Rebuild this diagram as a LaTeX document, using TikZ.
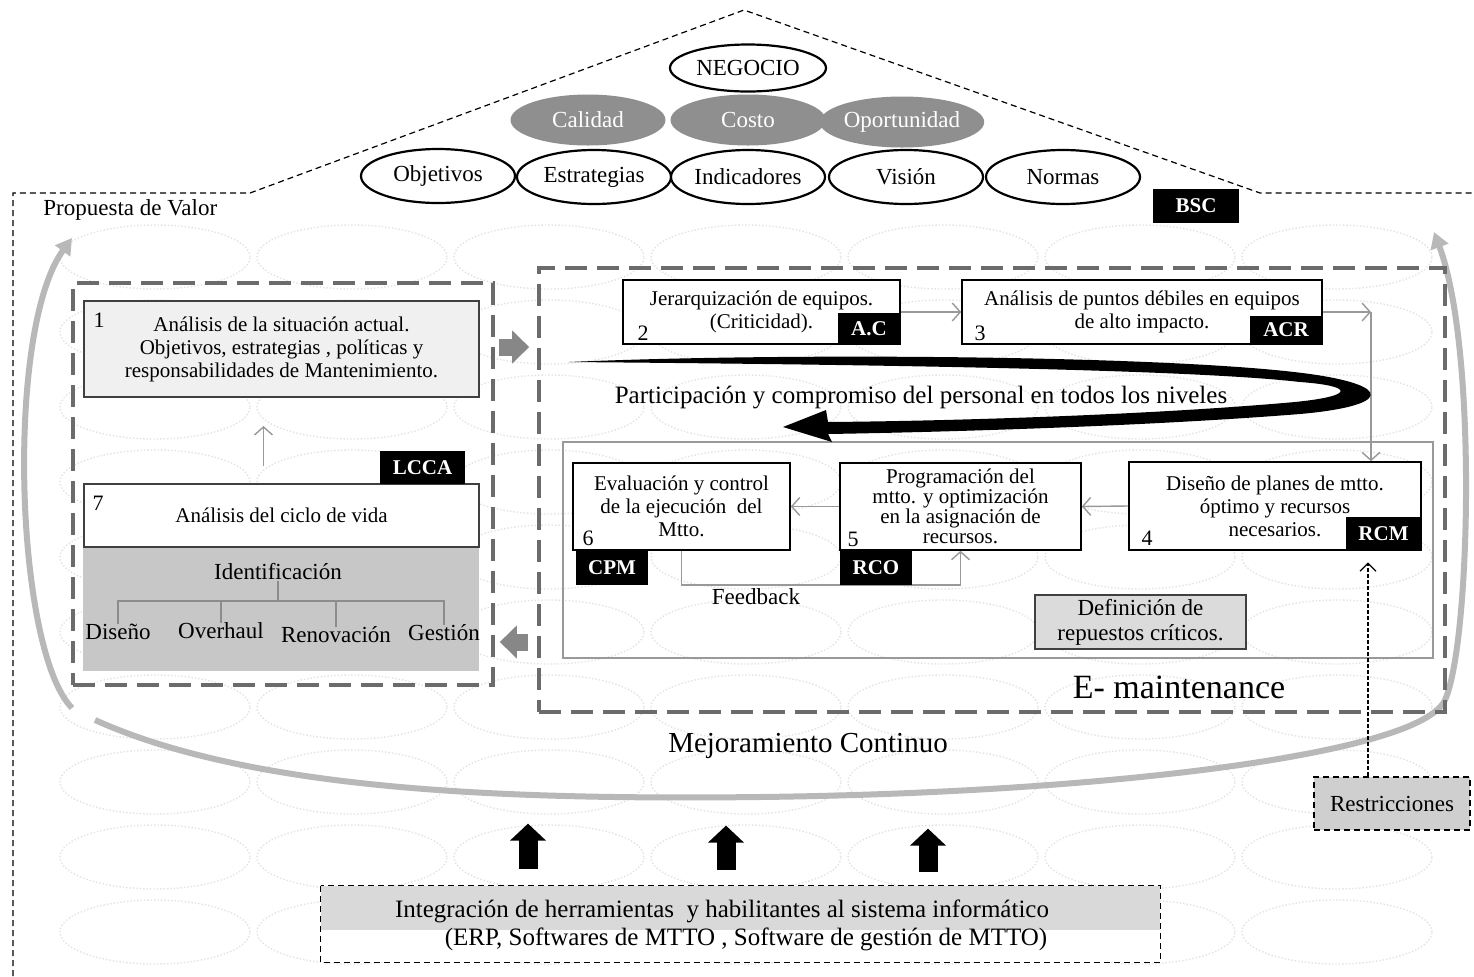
\documentclass[tikz,border=0pt]{standalone}
\usepackage{fontspec}
\setmainfont{Liberation Serif}
\usetikzlibrary{arrows.meta,shapes.geometric,calc}
\begin{document}
\begin{tikzpicture}[x=0.5pt,y=-0.5pt,
  bgell/.style={draw=black!11, densely dotted, line width=0.7pt},
  roof/.style={draw=black, dash pattern=on 3pt off 2pt, line width=0.6pt},
  oval/.style={ellipse, draw=black, line width=1.1pt, fill=white, minimum width=77pt, minimum height=27pt, inner sep=0pt, font=\fontsize{11.5}{13}\selectfont},
  goval/.style={ellipse, fill=black!44, text=white, minimum width=77.5pt, minimum height=25.5pt, inner sep=0pt, font=\fontsize{11.5}{13}\selectfont},
  tag/.style={fill=black, text=white, font=\fontsize{10.5}{12}\selectfont\bfseries, inner sep=0pt},
  gdash/.style={draw=black!58, line width=1.8pt, dash pattern=on 11pt off 5pt, inner sep=0pt},
  box/.style={draw=black, line width=0.8pt, fill=white, inner sep=0pt, align=center, font=\fontsize{10.5}{11.5}\selectfont},
  num/.style={font=\fontsize{11}{12}\selectfont, inner sep=0pt},
  lbl/.style={font=\fontsize{11.5}{12.5}\selectfont, inner sep=0pt},
  conn/.style={draw=black!40, line width=0.7pt, -{Straight Barb[length=4pt,width=9pt]}},
  blockarr/.style={draw=black!47, line width=8.5pt, -{Triangle[length=8.5pt,width=16pt]}},
  mej/.style={draw=black!28, line width=3pt},
  tree/.style={draw=black!45, line width=1.2pt},
  upar/.style={draw=black, line width=9.5pt, -{Triangle[length=8.5pt,width=17.5pt]}}
]
\useasboundingbox (0,0) rectangle (1474,976);
\fill[white] (0,0) rectangle (1474,976);

% background texture
\foreach \i in {0,...,6}{
  \foreach \j in {0,...,9}{
    \draw[bgell] (155+197*\i,257+75*\j) ellipse [x radius=47.5pt, y radius=16pt];
  }
}

% house outline
\draw[roof] (13,976) -- (13,193) -- (250,193) -- (744,10) -- (1260,193) -- (1474,193);
\node[anchor=west, font=\fontsize{11.5}{13}\selectfont, inner sep=0pt] (prop) at (43,210) {Propuesta de Valor};

% top ellipses
\node[oval, minimum width=78pt, minimum height=23.5pt] (neg) at (748,68) {NEGOCIO};
\node[goval] (cal) at (588,120) {Calidad};
\node[goval] (cos) at (748,120) {Costo};
\node[goval] (opo) at (902,122) {Oportunidad};
\node[oval] (obj) at (438,176) {Objetivos};
\node[oval] (est) at (594,177) {Estrategias};
\node[oval] (ind) at (748,177) {Indicadores};
\node[oval] (vis) at (906,177) {Visión};
\node[oval] (nor) at (1063,177) {Normas};
\node[tag, minimum width=43pt, minimum height=17pt] (bsc) at (1196,206) {BSC};

% continuous improvement loop
\draw[mej, -{Triangle[length=8pt,width=9pt]}] (72,708) .. controls (15,650) and (5,330) .. (72,238);
\draw[mej, -{Triangle[length=8pt,width=9pt]}] (95,720) .. controls (250,790) and (500,800) .. (760,797)
   .. controls (1100,793) and (1420,755) .. (1445,700)
   .. controls (1470,645) and (1478,350) .. (1434,232);
\node[font=\fontsize{14.5}{16}\selectfont, inner sep=0pt] (mejt) at (808,746) {Mejoramiento Continuo};

% group boxes
\node[gdash, minimum width=210pt, minimum height=201pt] (lbox) at (283,484) {};
\node[gdash, minimum width=453pt, minimum height=222pt] (rbox) at (992,490) {};

% left group
\node[box, fill=black!6, draw=black!75, line width=1pt, minimum width=197.5pt, minimum height=48pt] (b1) at (281.5,349)
  {Análisis de la situación actual.\\Objetivos, estrategias , políticas y\\responsabilidades de Mantenimiento.};
\node[num] (n1) at (99,320) {1};
\node[fill=black!22, minimum width=198pt, minimum height=61.5pt, inner sep=0pt] (ga) at (281,609.5) {};
\node[box, draw=black!75, line width=1pt, minimum width=197.5pt, minimum height=31.5pt] (b7) at (281.5,515.5) {Análisis del ciclo de vida};
\node[num] (n7) at (98,503) {7};
\node[tag, minimum width=42.5pt, minimum height=16.5pt] (lcca) at (422.5,467.5) {LCCA};
\draw[conn] ([xshift=-9pt,yshift=8.5pt]b7.north) -- ([xshift=-9pt,yshift=-14pt]b1.south);

\node[lbl] (idn) at (278,572) {Identificación};
\node[lbl] (dis) at (118,632) {Diseño};
\node[lbl] (ove) at (221,631) {Overhaul};
\node[lbl] (ren) at (336,635) {Renovación};
\node[lbl] (ges) at (444,633) {Gestión};
\coordinate (tj) at (278,601);
\draw[tree] (idn.south) -- (tj);
\draw[tree] (dis.north) |- (tj) -| (ges.north);
\draw[tree] (ove.north) -- (ove.north |- tj);
\draw[tree] (ren.north) -- (ren.north |- tj);

% block arrows between groups
\draw[blockarr, shorten <=2pt, shorten >=4pt] ([yshift=68.5pt]lbox.east) -- ([yshift=68.5pt]lbox.east -| rbox.west);
\draw[blockarr, shorten <=4.5pt, shorten >=2.5pt] ([yshift=-76pt]rbox.west) -- ([yshift=-76pt]rbox.west -| lbox.east);

% right group
\node[draw=black!40, line width=0.8pt, minimum width=435pt, minimum height=108pt, inner sep=0pt] (inr) at (998,550) {};

\node[box, minimum width=138.5pt, minimum height=32pt] (b2) at (761.5,312) {Jerarquización de equipos.\\(Criticidad).};
\node[num] (n2) at (643,333) {2};
\node[tag, minimum width=31pt, minimum height=15.5pt] (ac) at (869,328.5) {A.C};
\node[box, minimum width=180pt, minimum height=32pt] (b3) at (1142,312) {Análisis de puntos débiles en equipos\\de alto impacto.};
\node[num] (n3) at (980,333) {3};
\node[tag, minimum width=36pt, minimum height=14pt] (acr) at (1286,330) {ACR};

\node[box, minimum width=146pt, minimum height=44pt] (b4) at (1275,506) {Diseño de planes de mtto.\\óptimo y recursos\\necesarios.};
\node[num] (n4) at (1147,538) {4};
\node[tag, minimum width=37.5pt, minimum height=16.5pt] (rcm) at (1383.5,533.5) {RCM};

\node[box, minimum width=120.5pt, minimum height=43.5pt, font=\fontsize{10.5}{10}\selectfont] (b5) at (960.5,506.5) {Programación del\\mtto. y optimización\\en la asignación de\\recursos.};
\node[num] (n5) at (853,539) {5};

\node[box, minimum width=108.5pt, minimum height=43.5pt] (b6) at (681.5,506.5) {Evaluación y control\\de la ejecución\ \ del\\Mtto.};
\node[num] (n6) at (588,538) {6};

\coordinate (c34) at (1371,312);
\draw[conn] (b2.east) -- (b3.west);
\draw[conn] (b3.east) -- (c34);
\draw[conn] (c34) -- (c34 |- b4.north);
\draw[conn] (b4.west) -- (b5.east);
\draw[conn] (b5.west) -- (b6.east);
\draw[conn] (b6.south) -- ++(0,34) -| (b5.south);

\node[tag, minimum width=36pt, minimum height=17.5pt] (rco) at (876,567.5) {RCO};
\node[tag, minimum width=36pt, minimum height=17.5pt] (cpm) at (612,567.5) {CPM};
\node[lbl] (fb) at (756,597) {Feedback};

\node[box, fill=black!14, draw=black!75, minimum width=105.5pt, minimum height=27pt, font=\fontsize{11.5}{12.5}\selectfont] (def) at (1140.5,622) {Definición de\\repuestos críticos.};

\node[font=\fontsize{17}{19}\selectfont, inner sep=0pt] (em) at (1179,687) {E- maintenance};

% participation swoosh
\fill[black] (569,362) .. controls (800,352) and (1180,356) .. (1310,374)
  .. controls (1395,386) and (1390,406) .. (1300,414)
  .. controls (1150,426) and (950,432) .. (828,434)
  -- (832,442) -- (783,427) -- (826,410) -- (828,422)
  .. controls (950,421) and (1150,415) .. (1295,402)
  .. controls (1355,396) and (1355,386) .. (1300,382)
  .. controls (1180,368) and (800,364) .. (569,362) -- cycle;
\node[font=\fontsize{12.5}{14}\selectfont, inner sep=0pt] (part) at (921,397) {Participación y compromiso del personal en todos los niveles};

% restrictions
\node[draw=black, densely dashed, line width=0.7pt, fill=black!19, minimum width=78pt, minimum height=26.5pt, inner sep=0pt, font=\fontsize{11.5}{12.5}\selectfont] (res) at (1392,803.5) {Restricciones};
\draw[black, line width=0.6pt, dash pattern=on 2pt off 1pt, -{Straight Barb[length=4pt,width=8pt]}, shorten >=6pt] ([xshift=-12pt]res.north) -- ([xshift=-12pt]res.north |- rcm.south);

% bottom box
\node[fill=white, minimum width=419.5pt, minimum height=38pt, inner sep=0pt] (bot) at (740.5,924) {};
\fill[black!15] (bot.north west) rectangle ([yshift=-22pt]bot.north east);
\draw[densely dashed, line width=0.7pt] (bot.north west) rectangle (bot.south east);
\node[font=\fontsize{12.5}{14}\selectfont, inner sep=0pt] (bt1) at (722,911) {Integración de herramientas\ \ y habilitantes al sistema informático};
\node[font=\fontsize{12.5}{14}\selectfont, inner sep=0pt] (bt2) at (746,939) {(ERP, Softwares de MTTO , Software de gestión de MTTO)};

\draw[upar] ([xshift=-106.25pt,yshift=8.5pt]bot.north) -- ++(0,-45);
\draw[upar] ([xshift=-7.25pt,yshift=8pt]bot.north) -- ++(0,-44);
\draw[upar] ([xshift=93.75pt,yshift=7pt]bot.north) -- ++(0,-43);
\end{tikzpicture}
\end{document}
